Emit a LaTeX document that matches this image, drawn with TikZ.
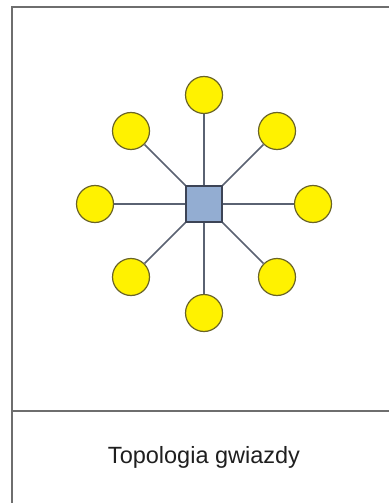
\documentclass[tikz,border=0pt]{standalone}
\usepackage{fontspec}
\setmainfont{Liberation Sans}
\definecolor{framec}{HTML}{6E6E6E}
\definecolor{linkc}{HTML}{5A6272}
\definecolor{nodeedge}{HTML}{6A6428}
\definecolor{hubfill}{HTML}{93ADD2}
\definecolor{hubedge}{HTML}{3C4456}
\begin{document}
\begin{tikzpicture}[x=1bp,y=-1bp,
  frameline/.style={draw=framec,line width=1.6bp},
  link/.style={draw=linkc,line width=1.6bp},
  station/.style={circle,draw=nodeedge,fill=yellow,line width=1.2bp,minimum size=37bp,inner sep=0pt},
  hub/.style={rectangle,draw=hubedge,fill=hubfill,line width=1.3bp,minimum size=36bp,inner sep=0pt}]
\useasboundingbox (0,0) rectangle (389,503);
\fill[white] (0,0) rectangle (389,503);
\coordinate (tl) at (12,7);
\coordinate (tr) at (389,7);
\coordinate (bl) at (12,503);
\coordinate (dl) at (12,411);
\coordinate (dr) at (389,411);
\draw[frameline] (bl) -- (tl) -- (tr);
\draw[frameline] (dl) -- (dr);
\node[hub] (h) at (204,204) {};
\node[station] (n) at (204,95) {};
\node[station] (s) at (204,313) {};
\node[station] (w) at (95,204) {};
\node[station] (e) at (313,204) {};
\node[station] (nw) at (131,131) {};
\node[station] (ne) at (277,131) {};
\node[station] (sw) at (131,277) {};
\node[station] (se) at (277,277) {};
\foreach \t in {n,s,w,e,nw,ne,sw,se} \draw[link] (h) -- (\t);
\node[font=\fontsize{23.5bp}{28bp}\selectfont,text=black!88] (cap) at (204,457) {Topologia gwiazdy};
\end{tikzpicture}
\end{document}
